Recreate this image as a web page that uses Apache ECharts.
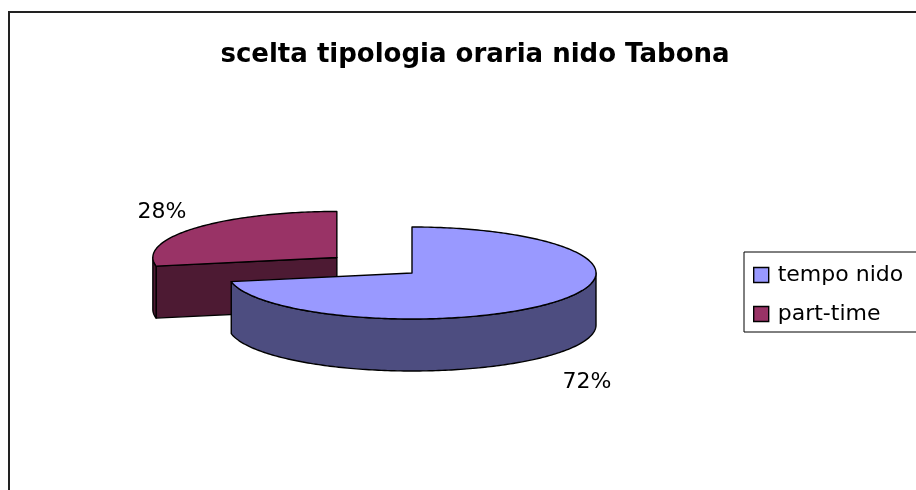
<!DOCTYPE html>
<html>
<head>
<meta charset="utf-8">
<script src="https://cdn.jsdelivr.net/npm/echarts@6/dist/echarts.min.js"></script>
<style>
  html, body { margin: 0; padding: 0; background: #fff; }
  #chart { width: 916px; height: 490px; }
</style>
</head>
<body>
<div id="chart"></div>
<script>
// data
const categories = ['tempo nido', 'part-time'];
const values = [72, 28];

// styles
const topColors = ['#9999FF', '#993366'];
const sideColors = ['#4D4D80', '#4D1A33'];
const explode = [0, 0.53];
const font = 'DejaVu Sans, Liberation Sans, sans-serif';

// 3d pie layout (px)
const cx = 412, cy = 273, rx = 184, ry = 46, depth = 52;

const total = values.reduce((a, b) => a + b, 0);
const rad = d => d * Math.PI / 180;

function renderSlice(i) {
    let before = 0;
    for (let k = 0; k < i; k++) before += values[k];
    const a1 = 90 - before / total * 360;               // start (ccw-most)
    const a0 = 90 - (before + values[i]) / total * 360; // end
    const mid = rad((a0 + a1) / 2);
    const ox = explode[i] * rx * Math.cos(mid);
    const oy = -explode[i] * ry * Math.sin(mid);

    const P = (deg, z) => [cx + ox + rx * Math.cos(rad(deg)), cy + oy - ry * Math.sin(rad(deg)) + z];
    const C = z => [cx + ox, cy + oy + z];
    const arc = (from, to, z) => {
        const pts = [];
        const n = Math.max(2, Math.ceil(Math.abs(to - from)));
        for (let s = 0; s <= n; s++) pts.push(P(from + (to - from) * s / n, z));
        return pts;
    };
    const line = { stroke: '#000', lineWidth: 1.4, lineJoin: 'round' };
    const children = [];

    // cut faces (only those facing the viewer)
    if (Math.cos(rad(a1)) < -1e-6) {
        children.push({ type: 'polygon', shape: { points: [C(0), P(a1, 0), P(a1, depth), C(depth)] },
            style: Object.assign({ fill: sideColors[i] }, line) });
    }
    if (Math.cos(rad(a0)) > 1e-6) {
        children.push({ type: 'polygon', shape: { points: [C(0), P(a0, 0), P(a0, depth), C(depth)] },
            style: Object.assign({ fill: sideColors[i] }, line) });
    }
    // outer wall, front part only
    for (let k = -2; k <= 2; k++) {
        const lo = Math.max(a0, -180 + 360 * k);
        const hi = Math.min(a1, 360 * k);
        if (hi > lo) {
            const pts = arc(lo, hi, 0).concat(arc(hi, lo, depth));
            children.push({ type: 'polygon', shape: { points: pts },
                style: Object.assign({ fill: sideColors[i] }, line) });
        }
    }
    // top
    children.push({ type: 'polygon', shape: { points: [C(0)].concat(arc(a1, a0, 0)) },
        style: Object.assign({ fill: topColors[i] }, line) });

    // percent label outside the slice
    const front = Math.sin(mid) < 0;
    const edge = P((a0 + a1) / 2, front ? depth : 0);
    children.push({
        type: 'text',
        style: {
            text: Math.round(values[i] / total * 100) + '%',
            x: edge[0] + 43 * Math.cos(mid),
            y: edge[1] - 35 * Math.sin(mid) + 6,
            align: 'center', verticalAlign: 'middle',
            fontSize: 22, fontFamily: font, fill: '#000'
        }
    });
    return { type: 'group', children: children };
}

const chart = echarts.init(document.getElementById('chart'));

const option = {
    backgroundColor: '#fff',
    animation: false,
    title: {
        text: 'scelta tipologia oraria nido Tabona',
        left: 470,
        top: 37,
        textAlign: 'center',
        textStyle: { fontSize: 26, fontWeight: 'bold', color: '#000', fontFamily: font }
    },
    legend: {
        orient: 'vertical',
        left: 744,
        top: 252,
        data: categories,
        icon: 'rect',
        itemWidth: 15,
        itemHeight: 15,
        itemGap: 17,
        borderColor: '#000',
        borderWidth: 1,
        padding: [12, 40, 7, 9],
        itemStyle: { borderColor: '#000', borderWidth: 1.4 },
        textStyle: { fontSize: 22, lineHeight: 22, color: '#000', fontFamily: font, padding: [0, 0, 0, 4] }
    },
    graphic: [{
        type: 'rect',
        shape: { x: 9, y: 12, width: 1000, height: 1000 },
        style: { fill: 'none', stroke: '#222', lineWidth: 2 },
        silent: true
    }],
    series: categories.map((name, i) => ({
        type: 'custom',
        name: name,
        coordinateSystem: 'none',
        z: 3 - i, // big slice drawn over the exploded one
        itemStyle: { color: topColors[i] },
        data: [[values[i]]],
        renderItem: () => renderSlice(i)
    }))
};

chart.setOption(option);
</script>
</body>
</html>
